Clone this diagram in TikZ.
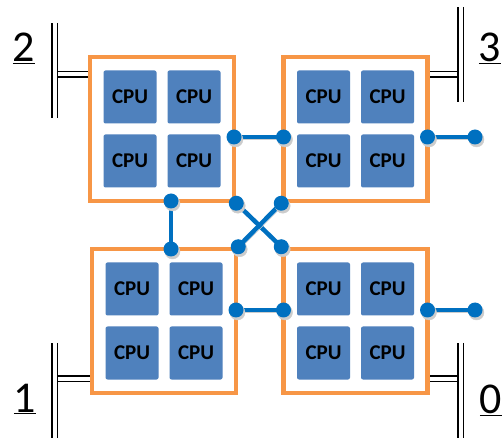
\documentclass[tikz,border=0pt]{standalone}
\usepackage{fontspec}
\setmainfont{Carlito}
\usepackage[svgnames]{xcolor}
\definecolor{boxorange}{HTML}{F79646}
\definecolor{cpublue}{HTML}{4F81BD}
\definecolor{linkblue}{HTML}{0070C0}
\tikzset{
  shadowed/.style={preaction={draw=black!20, fill=black!20, transform canvas={shift={(1.5pt,-2.5pt)}}}},
  board/.style={draw=boxorange, line width=4.5pt, fill=white, minimum size=144pt, inner sep=0pt},
  cpu/.style={fill=cpublue, rounded corners=2pt, minimum size=53pt, inner sep=0pt, font=\fontsize{21}{23}\selectfont\bfseries},
  link/.style={draw=linkblue, line width=4.5pt, shadowed},
  bus/.style={draw=black, line width=1.5pt, double=white, double distance=4pt},
  numlabel/.style={anchor=base, font=\fontsize{44}{50}\selectfont}
}

\begin{document}
\begin{tikzpicture}[x=1pt, y=-1pt]
  \useasboundingbox (0,0) rectangle (503,443);

  % 总线
  \coordinate (BV2a) at (54.5,23);
  \coordinate (BV2b) at (54.5,118);
  \coordinate (BH2) at (58,74.5);
  \coordinate (BV3a) at (460.5,7);
  \coordinate (BV3b) at (460.5,102);
  \coordinate (BH3) at (457,74.5);
  \coordinate (BV1a) at (54.5,343);
  \coordinate (BV1b) at (54.5,438);
  \coordinate (BH1) at (58,378.5);
  \coordinate (BV0a) at (460.5,343);
  \coordinate (BV0b) at (460.5,438);
  \coordinate (BH0) at (457,378.5);

  \draw[bus] (BV2a) -- (BV2b);
  \draw[bus] (BV3a) -- (BV3b);
  \draw[bus] (BV1a) -- (BV1b);
  \draw[bus] (BV0a) -- (BV0b);
  \draw[bus] (BH2) -- (92,74.5);
  \draw[bus] (BH3) -- (426,74.5);
  \draw[bus] (BH1) -- (94,378.5);
  \draw[bus] (BH0) -- (426,378.5);

  % 方框
  \node[board] (box2) at (162,129) {};
  \node[board] (box3) at (355.5,129) {};
  \node[board] (box1) at (164,321) {};
  \node[board] (box0) at (355.5,321) {};

  % CPU
  \node[cpu] (cpu2a) at (130,97) {CPU};
  \node[cpu] (cpu2b) at (194,97) {CPU};
  \node[cpu] (cpu2c) at (130,161) {CPU};
  \node[cpu] (cpu2d) at (194,161) {CPU};
  \node[cpu] (cpu3a) at (323.5,97) {CPU};
  \node[cpu] (cpu3b) at (387.5,97) {CPU};
  \node[cpu] (cpu3c) at (323.5,161) {CPU};
  \node[cpu] (cpu3d) at (387.5,161) {CPU};
  \node[cpu] (cpu1a) at (132,289) {CPU};
  \node[cpu] (cpu1b) at (196,289) {CPU};
  \node[cpu] (cpu1c) at (132,353) {CPU};
  \node[cpu] (cpu1d) at (196,353) {CPU};
  \node[cpu] (cpu0a) at (323.5,289) {CPU};
  \node[cpu] (cpu0b) at (387.5,289) {CPU};
  \node[cpu] (cpu0c) at (323.5,353) {CPU};
  \node[cpu] (cpu0d) at (387.5,353) {CPU};

  % 坐标点定义
  \coordinate (P2E) at (234,137);
  \coordinate (P2S) at (171,201);
  \coordinate (P3W) at (283.5,137);
  \coordinate (P3E) at (427.5,137);
  \coordinate (Q3) at (475,137);
  \coordinate (P1N) at (171,249);
  \coordinate (P1E) at (236,310);
  \coordinate (P0W) at (283.5,310);
  \coordinate (P0E) at (427.5,310);
  \coordinate (Q0) at (475,310);

  % 连线
  \draw[link] (P2E) -- (P3W);
  \draw[link] (P3E) -- (Q3);
  \draw[link] (P2S) -- (P1N);
  \draw[link] (box2.south east) -- (box0.north west);
  \draw[link] (box3.south west) -- (box1.north east);
  \draw[link] (P1E) -- (P0W);
  \draw[link] (P0E) -- (Q0);

  % 点标记
  \fill[linkblue, shadowed] (P2E) circle (7.5);
  \fill[linkblue, shadowed] (P3W) circle (7.5);
  \fill[linkblue, shadowed] (P3E) circle (7.5);
  \fill[linkblue, shadowed] (Q3) circle (7.5);
  \fill[linkblue, shadowed] (P2S) circle (7.5);
  \fill[linkblue, shadowed] (P1N) circle (7.5);
  \fill[linkblue, shadowed] (box2.south east) circle (7.5);
  \fill[linkblue, shadowed] (box3.south west) circle (7.5);
  \fill[linkblue, shadowed] (box1.north east) circle (7.5);
  \fill[linkblue, shadowed] (box0.north west) circle (7.5);
  \fill[linkblue, shadowed] (P1E) circle (7.5);
  \fill[linkblue, shadowed] (P0W) circle (7.5);
  \fill[linkblue, shadowed] (P0E) circle (7.5);
  \fill[linkblue, shadowed] (Q0) circle (7.5);

  % 标签
  \node[numlabel] (lab2) at (24,62) {\underline{2}};
  \node[numlabel] (lab3) at (490,62) {\underline{3}};
  \node[numlabel] (lab1) at (25,412) {\underline{1}};
  \node[numlabel] (lab0) at (491,413) {\underline{0}};
\end{tikzpicture}
\end{document}
